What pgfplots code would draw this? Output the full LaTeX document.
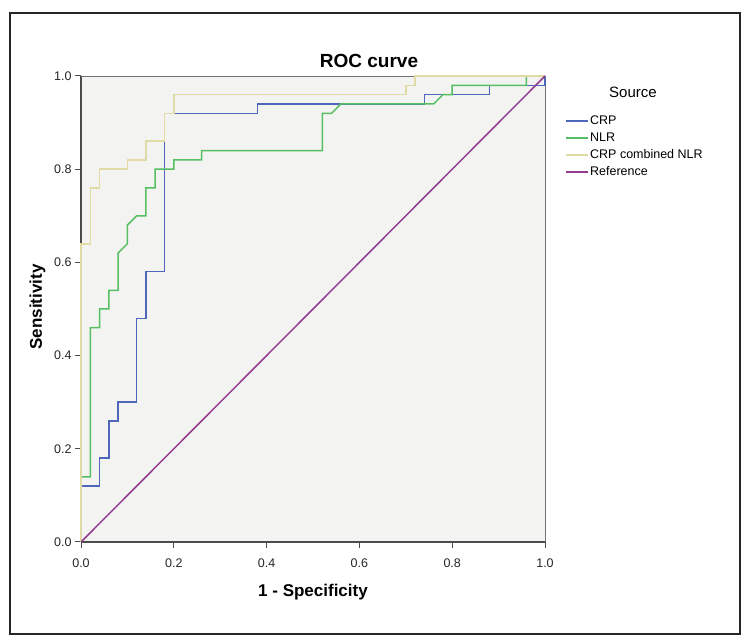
\documentclass[border=0pt]{standalone}
\usepackage{fontspec}
\setmainfont{Liberation Sans}
\usepackage{pgfplots}
\pgfplotsset{compat=1.18}

\definecolor{crpblue}{HTML}{4E66BC}
\definecolor{nlrgreen}{HTML}{56BF62}
\definecolor{combyellow}{HTML}{E0DBA4}
\definecolor{refpurple}{HTML}{933D91}
\definecolor{plotbg}{HTML}{F3F3F1}

\begin{document}
\begin{tikzpicture}[x=1pt,y=1pt]
% page and outer frame
\path[fill=white] (0,0) rectangle (753,642);
\draw[line width=1.8pt, black!85] (10,8) rectangle (740,629);

\begin{axis}[
  at={(81pt,100pt)}, anchor=south west,
  scale only axis, width=464pt, height=466pt,
  xmin=0, xmax=1, ymin=0, ymax=1,
  axis lines*=left,
  axis line style={draw=black!70, line width=1.1pt},
  axis background/.style={fill=plotbg, draw=black!55, line width=0.7pt},
  xtick={0,0.2,...,1.0}, ytick={0,0.2,...,1.0},
  tick align=outside, major tick length=6pt,
  tick style={draw=black!70, line width=1pt},
  xticklabel={\pgfmathprintnumber[fixed,fixed zerofill,precision=1,assume math mode=true]{\tick}},
  yticklabel={\pgfmathprintnumber[fixed,fixed zerofill,precision=1,assume math mode=true]{\tick}},
  ticklabel style={font=\fontsize{12.5}{14}\selectfont, text=black!85},
  xticklabel style={yshift=-7pt},
  clip=false,
  legend style={at={(1.043,0.922)}, anchor=north west, draw=none, fill=none,
    inner sep=0pt, row sep=0pt, font=\fontsize{12.5}{14}\selectfont,
    cells={anchor=west},
    nodes={inner sep=1.5pt, text height=10.5pt, text depth=3.5pt}},
  legend image code/.code={\draw[#1] (0pt,0pt) -- (22pt,0pt);},
]
% CRP
\addplot[crpblue, line width=1.5pt] coordinates {
 (0,0) (0,0.12) (0.04,0.12) (0.04,0.18) (0.06,0.18) (0.06,0.26)
 (0.08,0.26) (0.08,0.30) (0.12,0.30) (0.12,0.48) (0.14,0.48) (0.14,0.58)
 (0.18,0.58) (0.18,0.92) (0.38,0.92) (0.38,0.94) (0.74,0.94) (0.74,0.96)
 (0.88,0.96) (0.88,0.98) (1,0.98) (1,1)};
\addlegendentry{CRP}
% NLR
\addplot[nlrgreen, line width=1.5pt] coordinates {
 (0,0) (0,0.14) (0.02,0.14) (0.02,0.46) (0.04,0.46) (0.04,0.50)
 (0.06,0.50) (0.06,0.54) (0.08,0.54) (0.08,0.62) (0.10,0.64) (0.10,0.68)
 (0.12,0.70) (0.14,0.70) (0.14,0.76) (0.16,0.76) (0.16,0.80) (0.20,0.80)
 (0.20,0.82) (0.26,0.82) (0.26,0.84) (0.52,0.84) (0.52,0.92) (0.54,0.92)
 (0.56,0.94) (0.76,0.94) (0.78,0.96) (0.80,0.96) (0.80,0.98) (0.96,0.98)
 (0.96,1.0) (1,1)};
\addlegendentry{NLR}
% CRP combined NLR
\addplot[combyellow, line width=1.5pt] coordinates {
 (0,0) (0,0.64) (0.02,0.64) (0.02,0.76) (0.04,0.76) (0.04,0.80)
 (0.10,0.80) (0.10,0.82) (0.14,0.82) (0.14,0.86) (0.18,0.86) (0.18,0.92)
 (0.20,0.92) (0.20,0.96) (0.70,0.96) (0.70,0.98) (0.72,0.98) (0.72,1.0)
 (1,1)};
\addlegendentry{CRP combined NLR}
% chance line
\addplot[refpurple, line width=1.5pt] coordinates {(0,0) (1,1)};
\addlegendentry{Reference}
\end{axis}

\node[anchor=base, font=\bfseries\fontsize{19}{22}\selectfont] at (369,574.5) {ROC curve};
\node[anchor=base, font=\bfseries\fontsize{17}{20}\selectfont] at (313,45) {1 - Specificity};
\node[anchor=base, rotate=90, font=\bfseries\fontsize{17}{20}\selectfont] at (42,335) {Sensitivity};
\node[anchor=base, font=\fontsize{15}{18}\selectfont] at (633,544) {Source};
\end{tikzpicture}
\end{document}
